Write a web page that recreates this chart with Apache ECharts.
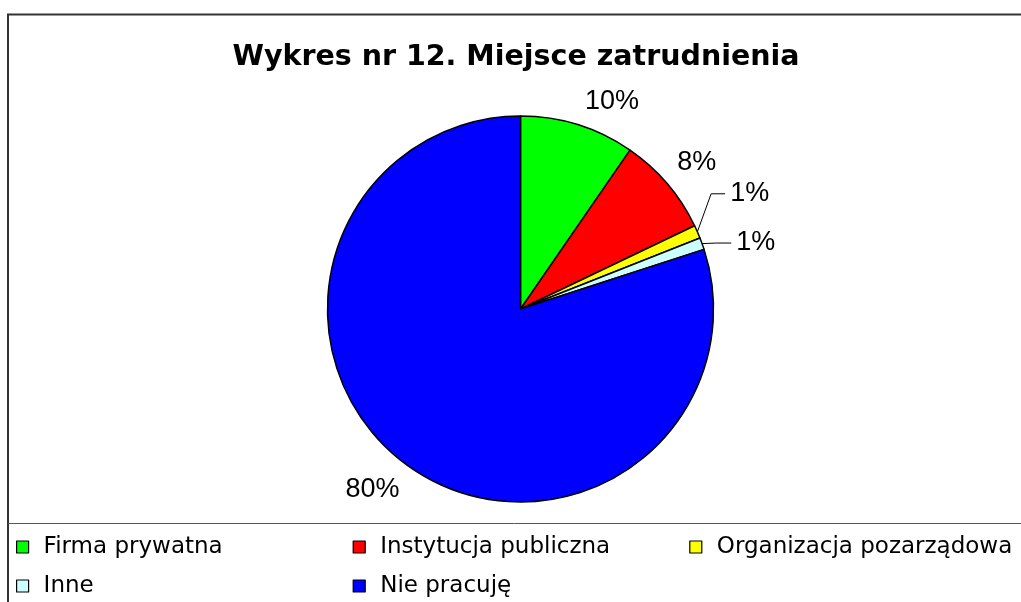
<!DOCTYPE html>
<html>
<head>
<meta charset="utf-8">
<script src="https://cdn.jsdelivr.net/npm/echarts@6/dist/echarts.min.js"></script>
<style>
html,body{margin:0;padding:0;background:#fff;}
#chart{width:1021px;height:602px;}
</style>
</head>
<body>
<div id="chart"></div>
<script>
const TITLE = 'Wykres nr 12. Miejsce zatrudnienia';
const categories = ['Firma prywatna', 'Instytucja publiczna', 'Organizacja pozarządowa', 'Inne', 'Nie pracuję'];
const shares = [9.6, 8.3, 1.1, 1.0, 80.0];
const colors = ['#00FF00', '#FF0000', '#FFFF00', '#CCFFFF', '#0000FF'];

// label styling per slice (leader line lengths, whether the leader is drawn, nudges)
const labelLineLen = [24, 33, 15, 15, 30];
const labelLineLen2 = [0, 0, 14, 15, 0];
const labelLineShow = [false, false, true, true, false];
const labelNudge = [[-5, 0], [-20, 0], [0, -32], [0, 4.5], [15, 0]];

const chart = echarts.init(document.getElementById('chart'), null, {renderer: 'canvas'});

const data = categories.map((name, i) => ({
  name: name,
  value: shares[i],
  itemStyle: {color: colors[i]},
  labelLine: {show: labelLineShow[i], length: labelLineLen[i], length2: labelLineLen2[i]}
}));

chart.setOption({
  animation: false,
  backgroundColor: '#ffffff',
  title: {
    text: TITLE,
    left: 511,
    textAlign: 'center',
    top: 38,
    textStyle: {fontFamily: 'DejaVu Sans', fontWeight: 'bold', fontSize: 28.5, color: '#000'}
  },
  legend: {
    data: categories,
    left: 16,
    top: 534,
    width: 1000,
    padding: 0,
    orient: 'horizontal',
    itemWidth: 12,
    itemHeight: 12,
    itemGap: 13,
    icon: 'rect',
    selectedMode: false,
    itemStyle: {borderColor: '#000', borderWidth: 1.2},
    textStyle: {fontFamily: 'DejaVu Sans', fontSize: 23, color: '#000', width: 296, lineHeight: 26, padding: [0, 0, 0, 10]}
  },
  graphic: [
    {type: 'polyline', silent: true, shape: {points: [[8, 602], [8, 14.5], [1021, 14.5]]}, style: {stroke: '#333', lineWidth: 2, fill: null}},
    {type: 'line', silent: true, shape: {x1: 8, y1: 523.5, x2: 1021, y2: 523.5}, style: {stroke: '#555', lineWidth: 1}}
  ],
  series: [{
    type: 'pie',
    center: [520.5, 309],
    radius: 193,
    startAngle: 90,
    clockwise: true,
    percentPrecision: 0,
    avoidLabelOverlap: false,
    emphasis: {disabled: true},
    itemStyle: {borderColor: '#000', borderWidth: 1.5},
    label: {
      show: true,
      position: 'outside',
      formatter: '{d}%',
      fontFamily: 'Liberation Sans',
      fontSize: 27,
      color: '#000'
    },
    labelLine: {lineStyle: {color: '#000', width: 1}, smooth: false},
    labelLayout: function (p) {
      const n = labelNudge[p.dataIndex];
      if (!n) return {};
      const out = {dx: n[0], dy: n[1]};
      const pts = p.labelLinePoints;
      if (labelLineShow[p.dataIndex] && pts && pts.length === 3) {
        out.labelLinePoints = [
          [pts[0][0], pts[0][1]],
          [pts[1][0], pts[1][1] + n[1]],
          [pts[2][0] + n[0], pts[2][1] + n[1]]
        ];
      }
      return out;
    },
    data: data
  }]
});
</script>
</body>
</html>
